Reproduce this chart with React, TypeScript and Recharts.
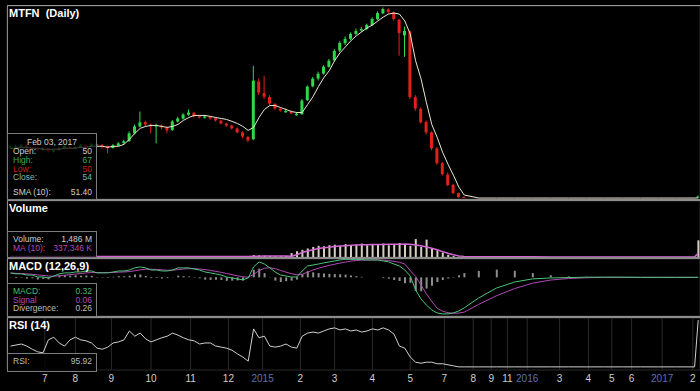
import React from 'react';
import { ComposedChart, Bar, Line, XAxis, YAxis, CartesianGrid } from 'recharts';

// trading session index (x position), sampled every 3 sessions while active, sparse once flat
const sessions = [
  2, 5, 8, 11, 14, 17, 20, 23, 26, 29, 32, 35, 38, 41, 44, 47, 50, 53, 56, 59,
  62, 65, 68, 71, 74, 77, 80, 83, 86, 89, 92, 95, 98, 101, 104, 107, 110, 113, 116, 119,
  122, 125, 128, 131, 134, 137, 140, 143, 146, 149, 152, 155, 158, 161, 164, 167, 170, 173, 176, 179,
  182, 185, 188, 191, 194, 197, 200, 203, 206, 209, 212, 215, 218, 221, 224, 227, 230, 233, 236, 239,
  242, 245, 248, 251, 254,
  262, 272, 282, 292, 302, 312, 322, 332, 342, 352, 362, 372, 382, 384,
];

const opens = [
  548, 560, 570, 575, 555, 540, 530, 545, 515, 530,
  550, 565, 550, 560, 580, 570, 590, 580, 570, 550,
  575, 600, 620, 700, 770, 815, 790, 770, 780, 760,
  735, 820, 850, 890, 910, 875, 860, 870, 855, 830,
  800, 780, 750, 710, 665, 640, 1230, 1110, 1070, 1000,
  950, 915, 920, 885, 895, 1040, 1180, 1260, 1310, 1380,
  1445, 1545, 1620, 1665, 1715, 1750, 1765, 1805, 1865, 1925,
  1965, 1935, 1860, 1700, 1740, 1070, 950, 815, 710, 545,
  395, 280, 175, 90, 50,
  40, 40, 40, 40, 40, 40, 40, 40, 40, 40, 40, 40, 40, 50,
];

const highs = [
  575, 585, 590, 585, 565, 548, 560, 550, 540, 560,
  580, 575, 570, 590, 590, 600, 600, 590, 575, 590,
  610, 635, 720, 790, 923, 830, 800, 800, 790, 770,
  835, 870, 905, 944, 920, 890, 885, 880, 860, 840,
  810, 790, 760, 720, 670, 1390, 1260, 1288, 1090, 1010,
  965, 950, 935, 915, 1050, 1190, 1275, 1330, 1395, 1460,
  1560, 1640, 1690, 1730, 1770, 1785, 1820, 1885, 1945, 1985,
  1975, 1945, 1870, 1790, 1750, 1090, 965, 830, 720, 560,
  410, 300, 185, 95, 55,
  40, 40, 40, 40, 40, 40, 40, 40, 40, 40, 40, 40, 40, 67,
];

const lows = [
  540, 550, 560, 550, 525, 515, 520, 505, 505, 520,
  545, 540, 540, 555, 555, 565, 565, 545, 497, 545,
  570, 595, 615, 690, 760, 770, 700, 598, 740, 700,
  725, 810, 840, 880, 860, 850, 850, 840, 820, 790,
  765, 740, 700, 650, 610, 630, 1090, 1050, 990, 940,
  920, 910, 895, 880, 890, 1030, 1170, 1240, 1300, 1370,
  1435, 1530, 1600, 1650, 1700, 1735, 1755, 1795, 1855, 1915,
  1920, 1850, 1492, 1480, 1050, 930, 800, 690, 530, 380,
  270, 160, 80, 42, 38,
  40, 40, 40, 40, 40, 40, 40, 40, 40, 40, 40, 40, 40, 50,
];

const closes = [
  558, 568, 578, 558, 538, 527, 548, 517, 527, 548,
  568, 548, 558, 578, 568, 588, 578, 568, 548, 578,
  598, 619, 700, 771, 812, 791, 771, 781, 761, 730,
  822, 852, 893, 913, 873, 862, 873, 852, 832, 801,
  781, 751, 710, 669, 629, 1238, 1116, 1075, 1004, 954,
  933, 930, 903, 900, 1035, 1177, 1258, 1309, 1380, 1441,
  1542, 1624, 1664, 1715, 1745, 1766, 1806, 1867, 1928, 1969,
  1938, 1867, 1725, 1745, 1070, 954, 812, 710, 548, 395,
  284, 172, 91, 50, 40,
  40, 40, 40, 40, 40, 40, 40, 40, 40, 40, 40, 40, 40, 54,
];

const sma10 = [
  548, 548, 558, 558, 548, 548, 538, 538, 538, 538,
  548, 548, 548, 558, 558, 568, 568, 568, 558, 568,
  568, 588, 639, 700, 751, 771, 781, 781, 771, 761,
  771, 791, 832, 862, 883, 883, 883, 873, 862, 852,
  842, 822, 801, 771, 730, 761, 862, 944, 984, 984,
  964, 944, 923, 913, 913, 994, 1075, 1177, 1268, 1339,
  1441, 1522, 1583, 1644, 1695, 1735, 1776, 1806, 1847, 1887,
  1918, 1928, 1918, 1847, 1715, 1441, 1258, 1015, 791, 659,
  507, 385, 274, 152, 71,
  40, 40, 40, 40, 40, 40, 40, 40, 40, 40, 40, 40, 40, 42,
];

// volume in millions
const volume = [
  40, 30, 50, 20, 30, 40, 60, 30, 20, 40,
  50, 30, 40, 60, 30, 20, 40, 30, 50, 40,
  30, 40, 90, 80, 70, 50, 40, 60, 40, 30,
  60, 50, 70, 60, 40, 30, 40, 30, 40, 50,
  40, 50, 40, 60, 70, 180, 150, 120, 90, 70,
  60, 90, 350, 520, 640, 760, 900, 1000, 950, 1050,
  1100, 1000, 1150, 1050, 1100, 1200, 1050, 1150, 1100, 1200,
  1050, 1150, 1250, 1100, 1000, 1600, 900, 1550, 750, 600,
  400, 200, 80, 40, 20,
  5, 5, 5, 5, 5, 5, 5, 5, 5, 5, 5, 5, 5, 1486,
];

const volumeMA = [
  40, 40, 40, 40, 40, 40, 40, 40, 40, 40,
  40, 40, 40, 40, 40, 40, 40, 40, 40, 40,
  40, 40, 45, 50, 55, 55, 55, 55, 50, 50,
  50, 50, 55, 55, 55, 50, 50, 45, 45, 45,
  45, 45, 45, 45, 50, 60, 75, 85, 90, 90,
  85, 80, 60, 200, 400, 530, 650, 750, 820, 880,
  930, 980, 1010, 1050, 1070, 1090, 1100, 1110, 1120, 1120,
  1130, 1130, 1140, 1150, 1130, 1080, 1000, 900, 780, 640,
  480, 330, 200, 100, 50,
  30, 25, 20, 15, 10, 10, 10, 10, 10, 10, 10, 10, 10, 337,
];

const macdLine = [
  23, 18, 18, 12, 12, 2, 2, -3, 7, 18,
  23, 23, 28, 28, 33, 33, 23, 23, 23, 28,
  33, 33, 38, 49, 54, 49, 38, 38, 33, 33,
  38, 49, 49, 49, 43, 38, 28, 23, 18, 12,
  2, -3, -8, -13, -3, 54, 80, 69, 49, 28,
  12, 7, 2, 2, 33, 59, 64, 69, 75, 80,
  85, 90, 93, 93, 93, 92, 90, 90, 90, 85,
  80, 69, 59, 38, 7, -65, -112, -143, -169, -184,
  -189, -189, -184, -174, -158,
  -107, -55, -24, -8, -3, -1, 1, 1, 1, 0, 0, 0, 0, 0.32,
];

const signalLine = [
  22, 21, 20, 18, 16, 13, 10, 7, 6, 8,
  11, 14, 17, 20, 23, 25, 25, 25, 25, 25,
  27, 28, 30, 34, 39, 42, 42, 41, 39, 37,
  37, 40, 43, 45, 45, 43, 40, 36, 31, 26,
  20, 14, 8, 3, 1, 15, 35, 47, 50, 45,
  36, 27, 19, 13, 16, 27, 38, 47, 55, 62,
  68, 74, 79, 84, 87, 89, 90, 90, 90, 89,
  87, 83, 78, 69, 35, 5, -40, -85, -125, -160,
  -175, -183, -186, -185, -180,
  -140, -95, -58, -30, -14, -6, -2, 0, 0, 0, 0, 0, 0, 0.06,
];

const rsi14 = [
  46, 48, 50, 46, 40, 35, 33, 58, 63, 52,
  46, 58, 63, 58, 56, 52, 42, 40, 44, 52,
  54, 58, 75, 65, 71, 60, 54, 58, 62, 65,
  71, 67, 62, 58, 56, 50, 52, 52, 46, 44,
  42, 38, 31, 25, 17, 79, 62, 65, 46, 44,
  46, 50, 44, 42, 65, 71, 73, 71, 75, 79,
  81, 77, 79, 75, 77, 73, 75, 79, 77, 81,
  77, 69, 46, 42, 25, 15, 13, 15, 15, 12,
  12, 10, 8, 6, 6,
  6, 6, 6, 6, 6, 6, 6, 6, 6, 6, 6, 6, 6, 95.92,
];

const tickSessions = [21, 38, 58, 80, 102, 123, 142, 163, 182, 203, 224, 243, 259, 269, 278, 289, 307, 323, 336, 347, 364, 381];
const tickLabels = ['7', '8', '9', '10', '11', '12', '2015', '2', '3', '4', '5', '7', '8', '9', '11', '2016', '3', '4', '5', '6', '2017', '2'];

const rows = sessions.map((s, i) => ({
  s,
  o: opens[i],
  h: highs[i],
  l: lows[i],
  c: closes[i],
  sma: sma10[i],
  v: volume[i],
  vm: volumeMA[i],
  macd: macdLine[i],
  sig: signalLine[i],
  hist: macdLine[i] - signalLine[i],
  rsi: rsi14[i],
}));

const FONT = '"Liberation Sans", Arial, sans-serif';
const GRID = '#2a2a2a';
const W = 700;
const MARGIN = { top: 0, right: 0, bottom: 0, left: 7 };

const Candle = (props: any) => {
  const { x, y, width, height, payload } = props;
  const { o, h, l, c } = payload;
  if (h === l) return null;
  const color = c >= o ? '#2ed84a' : '#e3211c';
  const top = Math.min(y, y + height);
  const hh = Math.abs(height);
  const k = hh / (h - l);
  const bTop = top + (h - Math.max(o, c)) * k;
  const bBot = top + (h - Math.min(o, c)) * k;
  const cx = x + width / 2;
  return (
    <g>
      <line x1={cx} x2={cx} y1={top} y2={top + hh} stroke={color} strokeWidth={1} />
      <rect x={x} y={bTop} width={width} height={Math.max(1, bBot - bTop)} fill={color} />
    </g>
  );
};

const AxisTick = (props: any) => {
  const { x, y, payload } = props;
  const idx = tickSessions.indexOf(payload.value);
  const label = tickLabels[idx] ?? '';
  const isYear = label.length === 4;
  return (
    <text x={x} y={y + 12} textAnchor="middle" fill={isYear ? '#5d70b4' : '#cfcfcf'} fontSize={10} fontFamily={FONT}>
      {label}
    </text>
  );
};

const hiddenX = (
  <XAxis dataKey="s" type="number" domain={[0, 385]} ticks={tickSessions} interval={0} allowDataOverflow
    height={0} tick={false} axisLine={false} tickLine={false} />
);

const Row = ({ top, label, value, color }: { top: number; label: string; value: string; color: string }) => (
  <div style={{ position: 'absolute', left: 5, right: 4, top, height: 8, display: 'flex', justifyContent: 'space-between', color, fontSize: 8.5, lineHeight: '8px' }}>
    <span>{label}</span>
    <span>{value}</span>
  </div>
);

const boxStyle = (top: number, height: number): React.CSSProperties => ({
  position: 'absolute', left: 7, top, width: 90, height, boxSizing: 'border-box',
  border: '1px solid #7c7c7c', background: 'rgba(0,0,0,0.72)', fontFamily: FONT,
});

const title = (text: string, top: number) => (
  <div style={{ position: 'absolute', left: 9, top, color: '#ffffff', fontFamily: FONT, fontWeight: 'bold', fontSize: 11, whiteSpace: 'pre' }}>
    {text}
  </div>
);

const sep = (top: number, h = 2): React.CSSProperties => ({ position: 'absolute', left: 7, top, width: W - 7, height: h, background: '#8c8c8c' });

export default function App() {
  return (
    <div style={{ position: 'absolute', left: 0, top: 0, width: W, height: 391, background: '#000', overflow: 'hidden' }}>
      {/* price */}
      <div style={{ position: 'absolute', left: 0, top: 6 }}>
        <ComposedChart width={W} height={193} data={rows} margin={MARGIN}>
          <CartesianGrid stroke={GRID} />
          {hiddenX}
          <YAxis type="number" domain={[30, 2000]} ticks={[400, 800, 1200, 1600]} allowDataOverflow width={0} tick={false} axisLine={false} tickLine={false} />
          <Bar dataKey={(d: any) => [d.l, d.h]} barSize={3} shape={<Candle />} isAnimationActive={false} />
          <Line type="linear" dataKey="sma" stroke="#ebe6d2" strokeWidth={1} dot={false} isAnimationActive={false} />
        </ComposedChart>
      </div>
      {/* volume */}
      <div style={{ position: 'absolute', left: 0, top: 201 }}>
        <ComposedChart width={W} height={56} data={rows} margin={MARGIN}>
          <CartesianGrid stroke={GRID} />
          {hiddenX}
          <YAxis type="number" domain={[0, 5000]} ticks={[1100, 2400, 3900]} allowDataOverflow width={0} tick={false} axisLine={false} tickLine={false} />
          <Bar dataKey="v" barSize={2} fill="#d6cfbf" isAnimationActive={false} />
          <Line type="linear" dataKey="vm" stroke="#d467d4" strokeWidth={1.5} dot={false} isAnimationActive={false} />
        </ComposedChart>
      </div>
      {/* macd */}
      <div style={{ position: 'absolute', left: 0, top: 259 }}>
        <ComposedChart width={W} height={57} data={rows} margin={MARGIN}>
          <CartesianGrid stroke={GRID} />
          {hiddenX}
          <YAxis type="number" domain={[-200, 95]} ticks={[40, -95]} allowDataOverflow width={0} tick={false} axisLine={false} tickLine={false} />
          <Bar dataKey="hist" barSize={2} fill="#8e8e8e" isAnimationActive={false} />
          <Line type="linear" dataKey="sig" stroke="#b04ab4" strokeWidth={1} dot={false} isAnimationActive={false} />
          <Line type="linear" dataKey="macd" stroke="#4cc47a" strokeWidth={1} dot={false} isAnimationActive={false} />
        </ComposedChart>
      </div>
      {/* rsi */}
      <div style={{ position: 'absolute', left: 0, top: 318 }}>
        <ComposedChart width={W} height={73} data={rows} margin={MARGIN}>
          <CartesianGrid stroke={GRID} />
          <XAxis dataKey="s" type="number" domain={[0, 385]} ticks={tickSessions} interval={0} allowDataOverflow
            height={21} tick={<AxisTick />} tickSize={0} tickMargin={0} axisLine={false} tickLine={false} />
          <YAxis type="number" domain={[0, 100]} ticks={[30, 70]} allowDataOverflow width={0} tick={false} axisLine={false} tickLine={false} />
          <Line type="linear" dataKey="rsi" stroke="#cfcfcf" strokeWidth={1} dot={false} isAnimationActive={false} />
        </ComposedChart>
      </div>

      {/* frame */}
      <div style={{ position: 'absolute', left: 7, top: 5, width: W - 7, height: 1, background: '#9a9a9a' }} />
      <div style={{ position: 'absolute', left: 7, top: 5, width: 1, height: 366, background: '#8a8a8a' }} />
      <div style={sep(199)} />
      <div style={sep(257)} />
      <div style={sep(316)} />

      {title('MTFN  (Daily)', 7)}
      {title('Volume', 202)}
      {title('MACD (12,26,9)', 260)}
      {title('RSI (14)', 319)}

      <div style={boxStyle(133, 67)}>
        <div style={{ position: 'absolute', left: 0, right: 0, top: 4, height: 8, textAlign: 'center', color: '#cfcfcf', fontSize: 8.5, lineHeight: '8px' }}>Feb 03, 2017</div>
        <Row top={13} label="Open:" value="50" color="#cfcfcf" />
        <Row top={22} label="High:" value="67" color="#3fae4a" />
        <Row top={30.5} label="Low:" value="50" color="#c4241e" />
        <Row top={39} label="Close:" value="54" color="#86b4b4" />
        <Row top={53.5} label="SMA (10):" value="51.40" color="#cfcfcf" />
      </div>
      <div style={boxStyle(231, 27)}>
        <Row top={3} label="Volume:" value="1,486 M" color="#cfcfcf" />
        <Row top={12} label="MA (10):" value="337,346 K" color="#b44ab8" />
      </div>
      <div style={boxStyle(283, 34)}>
        <Row top={3} label="MACD:" value="0.32" color="#4cba6e" />
        <Row top={11.5} label="Signal" value="0.06" color="#b44ab8" />
        <Row top={20} label="Divergence:" value="0.26" color="#bdbdbd" />
      </div>
      <div style={boxStyle(353, 19)}>
        <Row top={3} label="RSI:" value="95.92" color="#bdbdbd" />
      </div>
    </div>
  );
}
